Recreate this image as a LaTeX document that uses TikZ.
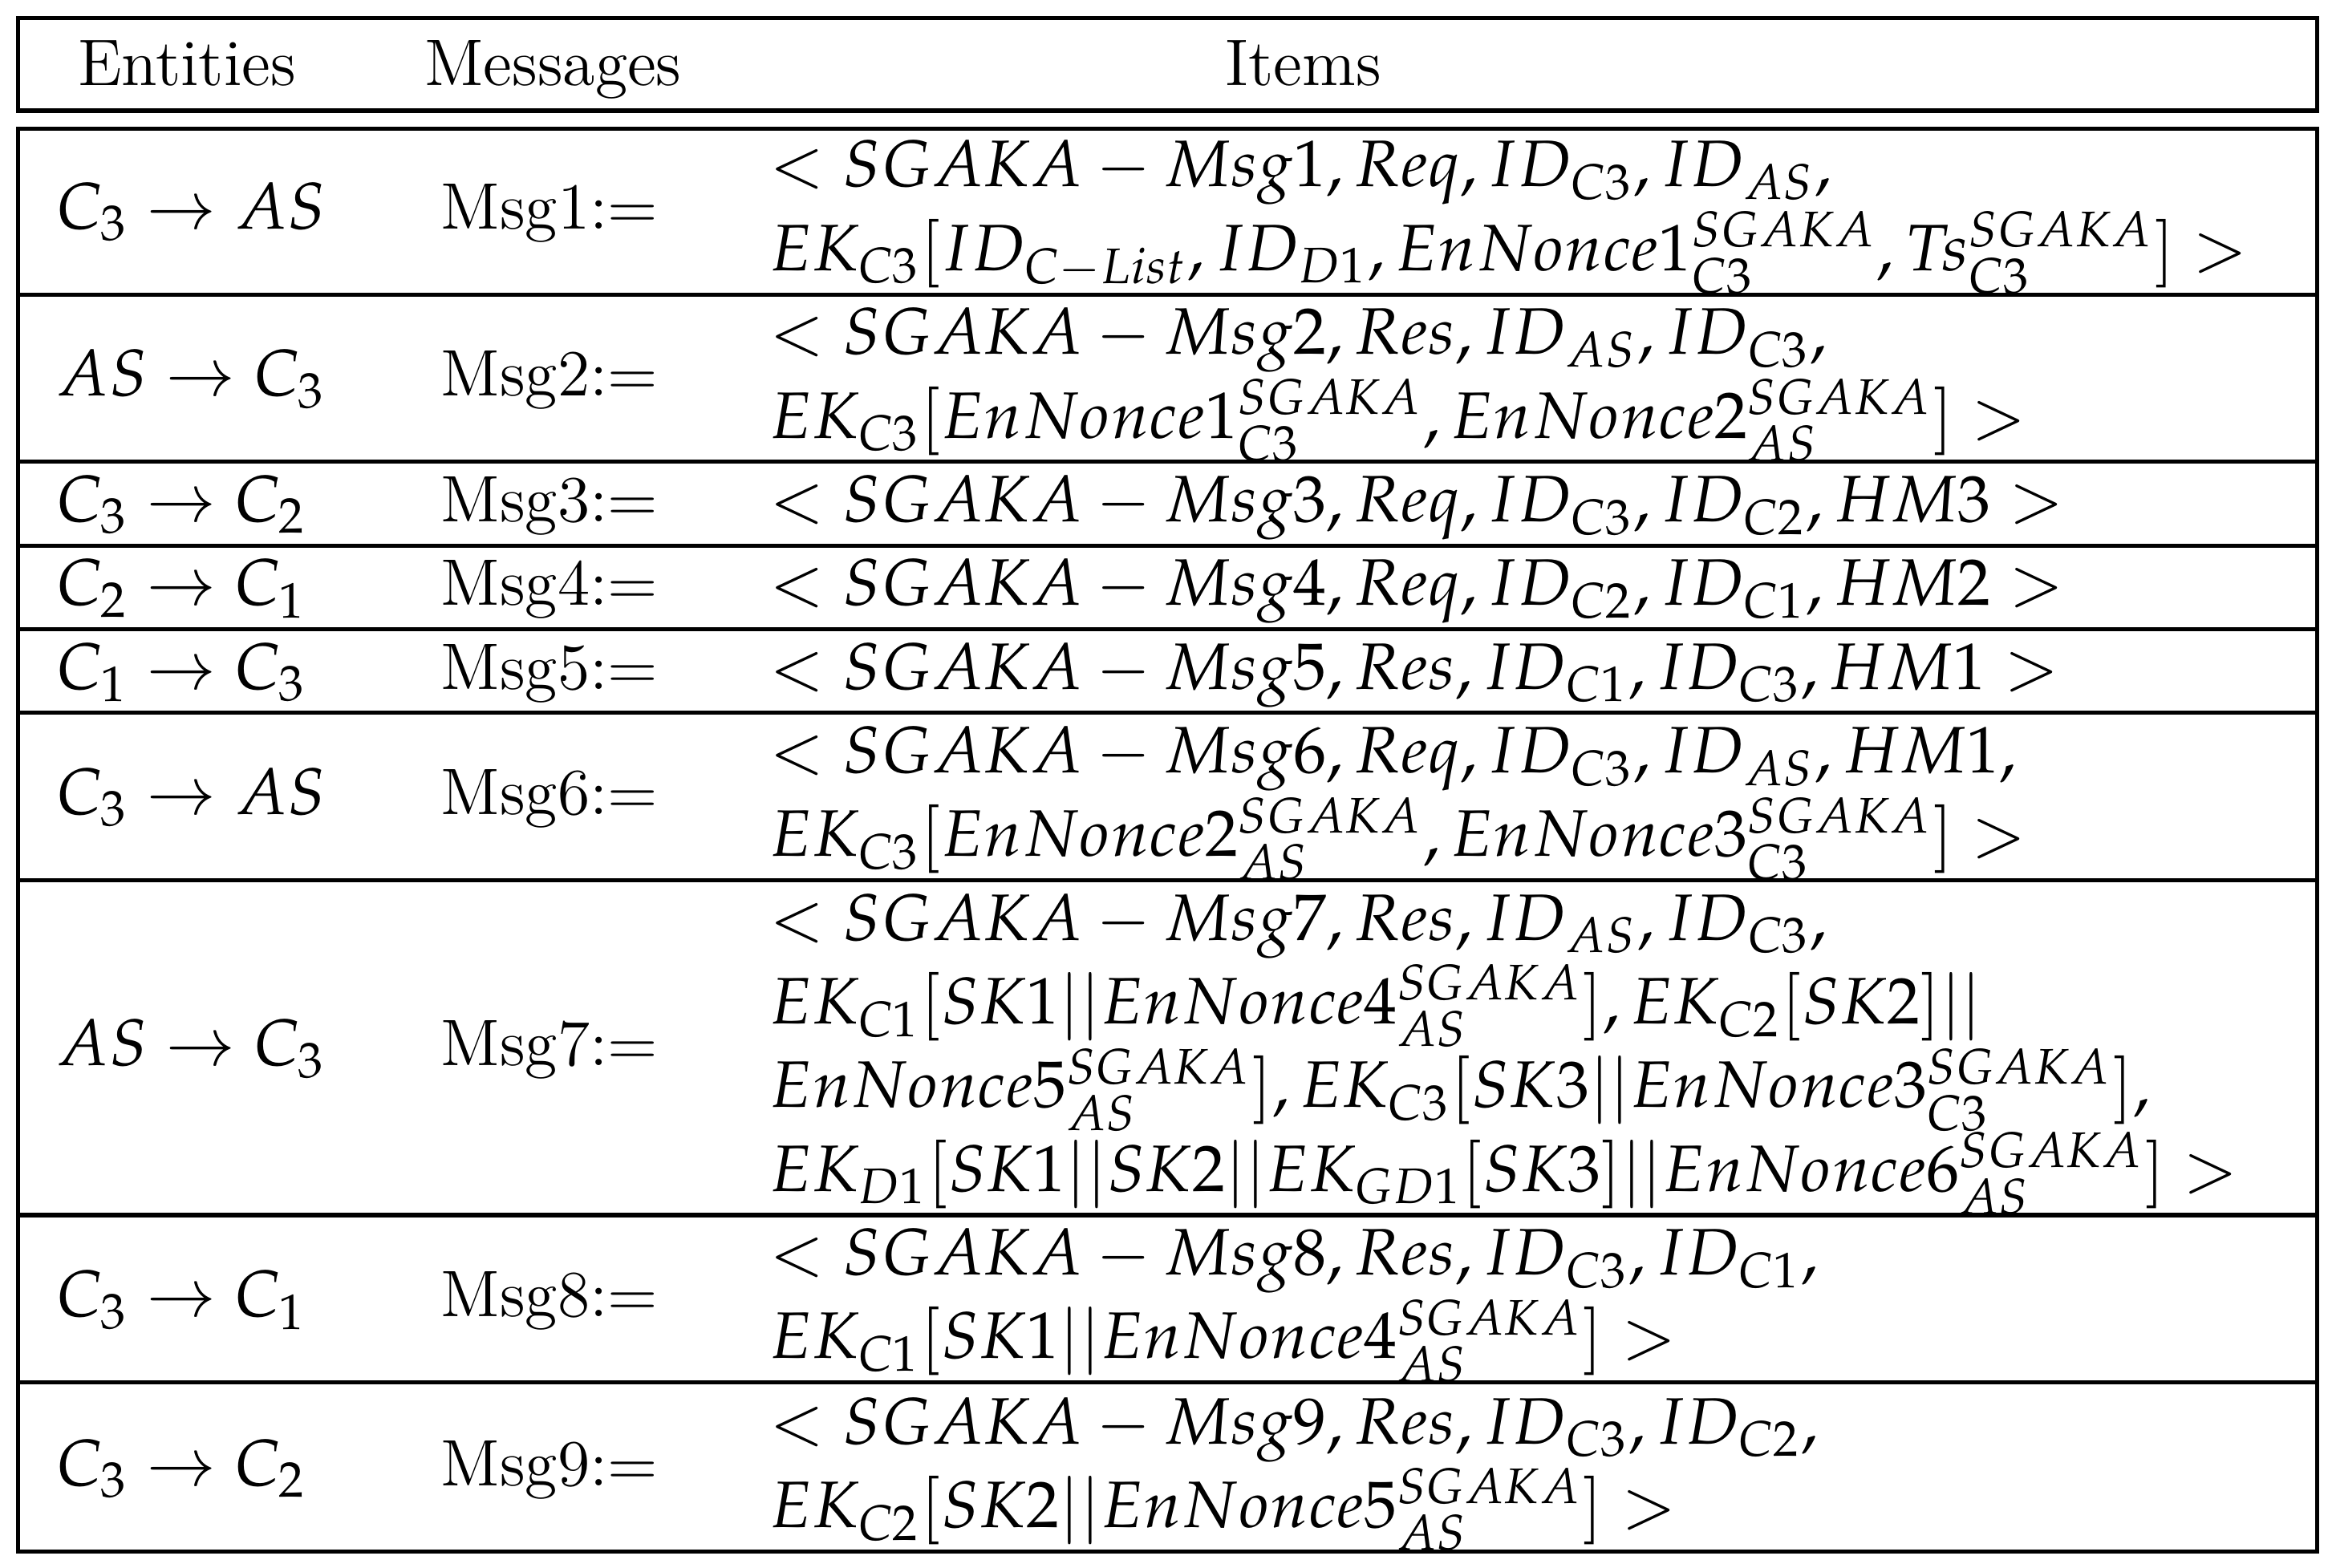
\documentclass[tikz,border=0pt]{standalone}
\usepackage{mathpazo}
\begin{document}
\begin{tikzpicture}[x=0.25pt,y=-0.25pt,
  every node/.style={inner sep=0pt,outer sep=0pt,font=\fontsize{11}{13}\selectfont},
  it/.style={anchor=base west},
  hd/.style={anchor=base},
  ent/.style={anchor=base west},
  msg/.style={anchor=base west},
  rule/.style={line width=0.7pt}]
\useasboundingbox (0,0) rectangle (1560,1049);
\draw[rule] (12,12) rectangle (1550,74);
\draw[rule] (12,86) rectangle (1550,1038);
\foreach \y in {197,309,365,421,477,589,813,925} \draw[rule] (12,\y) -- (1550,\y);
\node[hd] (h1) at (125,57) {Entities};
\node[hd] (h2) at (370,57) {Messages};
\node[hd] (h3) at (872,57) {Items};
\def\ix{515}
% row1
\node[ent] (e1) at (38,153) {$C_3\rightarrow AS$};
\node[msg] (m1) at (295,153) {Msg1:=};
\node[it] (i1a) at (\ix,125) {$<SGAKA-Msg1,Req,ID_{C3},ID_{AS},$};
\node[it] (i1b) at (\ix,181) {$EK_{C3}[ID_{C-List},ID_{D1},EnNonce1^{SGAKA}_{C3},Ts^{SGAKA}_{C3}]>$};
% row2
\node[ent] (e2) at (38,265) {$AS\rightarrow C_3$};
\node[msg] (m2) at (295,265) {Msg2:=};
\node[it] (i2a) at (\ix,237) {$<SGAKA-Msg2,Res,ID_{AS},ID_{C3},$};
\node[it] (i2b) at (\ix,293) {$EK_{C3}[EnNonce1^{SGAKA}_{C3},EnNonce2^{SGAKA}_{AS}]>$};
% row3
\node[ent] (e3) at (38,349) {$C_3\rightarrow C_2$};
\node[msg] (m3) at (295,349) {Msg3:=};
\node[it] (i3) at (\ix,349) {$<SGAKA-Msg3,Req,ID_{C3},ID_{C2},HM3>$};
% row4
\node[ent] (e4) at (38,405) {$C_2\rightarrow C_1$};
\node[msg] (m4) at (295,405) {Msg4:=};
\node[it] (i4) at (\ix,405) {$<SGAKA-Msg4,Req,ID_{C2},ID_{C1},HM2>$};
% row5
\node[ent] (e5) at (38,461) {$C_1\rightarrow C_3$};
\node[msg] (m5) at (295,461) {Msg5:=};
\node[it] (i5) at (\ix,461) {$<SGAKA-Msg5,Res,ID_{C1},ID_{C3},HM1>$};
% row6
\node[ent] (e6) at (38,545) {$C_3\rightarrow AS$};
\node[msg] (m6) at (295,545) {Msg6:=};
\node[it] (i6a) at (\ix,517) {$<SGAKA-Msg6,Req,ID_{C3},ID_{AS},HM1,$};
\node[it] (i6b) at (\ix,573) {$EK_{C3}[EnNonce2^{SGAKA}_{AS},EnNonce3^{SGAKA}_{C3}]>$};
% row7
\node[ent] (e7) at (38,713) {$AS\rightarrow C_3$};
\node[msg] (m7) at (295,713) {Msg7:=};
\node[it] (i7a) at (\ix,629) {$<SGAKA-Msg7,Res,ID_{AS},ID_{C3},$};
\node[it] (i7b) at (\ix,685) {$EK_{C1}[SK1||EnNonce4^{SGAKA}_{AS}],EK_{C2}[SK2]||$};
\node[it] (i7c) at (\ix,741) {$EnNonce5^{SGAKA}_{AS}],EK_{C3}[SK3||EnNonce3^{SGAKA}_{C3}],$};
\node[it] (i7d) at (\ix,797) {$EK_{D1}[SK1||SK2||EK_{GD1}[SK3]||EnNonce6^{SGAKA}_{AS}]>$};
% row8
\node[ent] (e8) at (38,881) {$C_3\rightarrow C_1$};
\node[msg] (m8) at (295,881) {Msg8:=};
\node[it] (i8a) at (\ix,853) {$<SGAKA-Msg8,Res,ID_{C3},ID_{C1},$};
\node[it] (i8b) at (\ix,909) {$EK_{C1}[SK1||EnNonce4^{SGAKA}_{AS}]>$};
% row9
\node[ent] (e9) at (38,994) {$C_3\rightarrow C_2$};
\node[msg] (m9) at (295,994) {Msg9:=};
\node[it] (i9a) at (\ix,966) {$<SGAKA-Msg9,Res,ID_{C3},ID_{C2},$};
\node[it] (i9b) at (\ix,1022) {$EK_{C2}[SK2||EnNonce5^{SGAKA}_{AS}]>$};
\end{tikzpicture}
\end{document}
